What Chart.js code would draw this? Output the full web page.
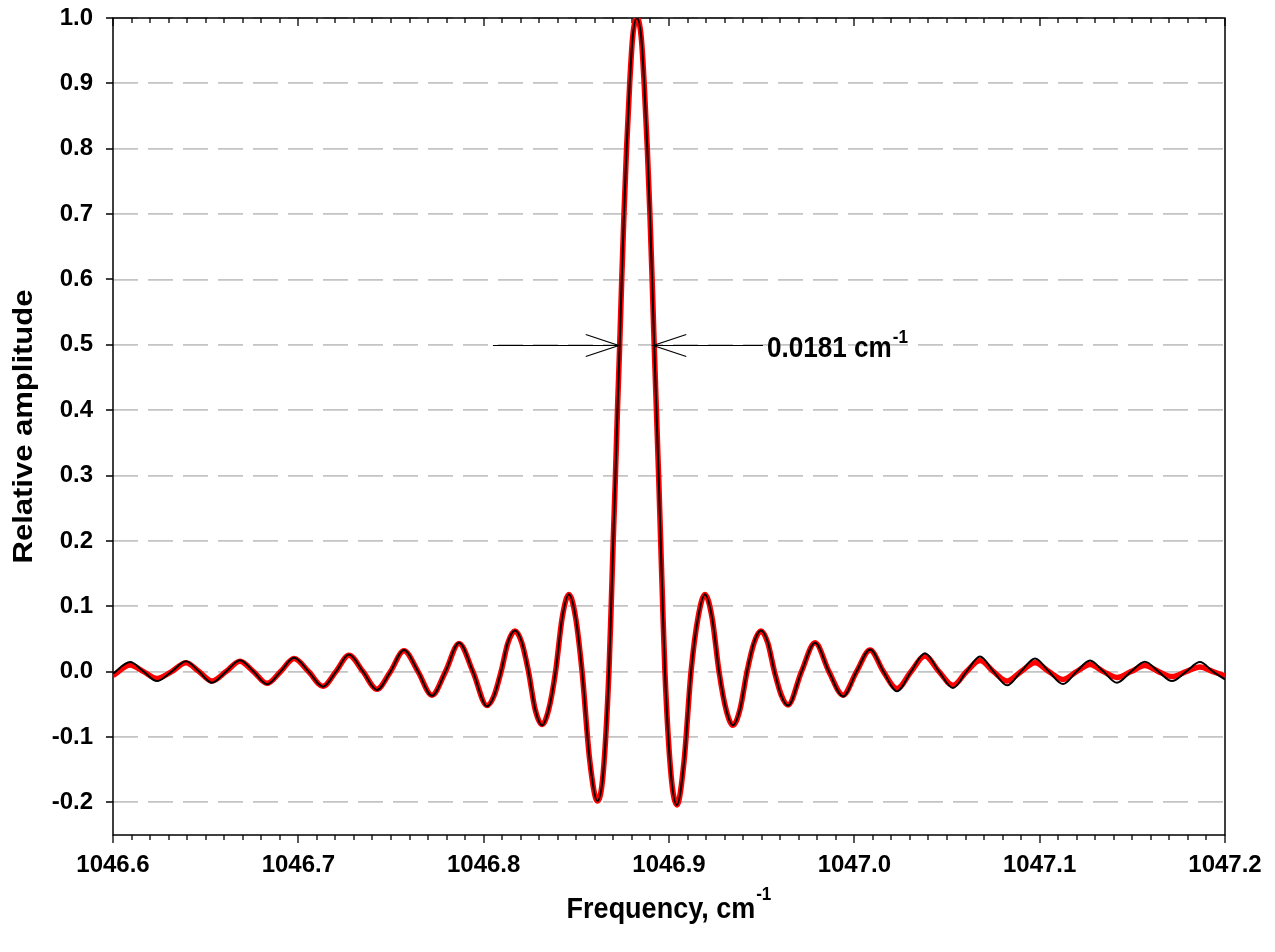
<!DOCTYPE html>
<html>
<head>
<meta charset="utf-8">
<script src="https://cdn.jsdelivr.net/npm/chart.js@4.4.0/dist/chart.umd.min.js"></script>
<style>
  body { margin: 0; background: #fff; }
  #wrap { width: 1275px; height: 952px; }
</style>
</head>
<body>
<div id="wrap"><canvas id="chart" width="1275" height="952"></canvas></div>
<script>
// frequencies (cm-1) of the points
const freq = [
  // left wing
  1046.6000, 1046.6092, 1046.6165, 1046.6237, 1046.6316, 1046.6394, 1046.6464, 1046.6534,
  1046.6610, 1046.6685, 1046.6758, 1046.6831, 1046.6904, 1046.6977, 1046.7055, 1046.7133,
  1046.7203, 1046.7273, 1046.7349, 1046.7424, 1046.7497, 1046.7570, 1046.7646, 1046.7721,
  1046.7794, 1046.7867, 1046.7942, 1046.8018,
  // inner left lobes
  1046.8056, 1046.8094, 1046.8131, 1046.8169, 1046.8206, 1046.8242, 1046.8278, 1046.8315,
  1046.8351, 1046.8388, 1046.8424, 1046.8460, 1046.8496, 1046.8531, 1046.8572, 1046.8614, 1046.8645,
  // main lobe
  1046.8676, 1046.8688, 1046.8699, 1046.8711, 1046.8722, 1046.8734, 1046.8745, 1046.8757,
  1046.8771, 1046.8788, 1046.8804, 1046.8827, 1046.8850, 1046.8866, 1046.8883, 1046.8897,
  1046.8909, 1046.8920, 1046.8932, 1046.8944, 1046.8955, 1046.8966, 1046.8978,
  // inner right lobes
  1046.9011, 1046.9043, 1046.9081, 1046.9119, 1046.9157, 1046.9194, 1046.9232, 1046.9270,
  1046.9308, 1046.9345, 1046.9383, 1046.9421, 1046.9459, 1046.9496, 1046.9533, 1046.9569, 1046.9606,
  // right wing
  1046.9642, 1046.9715, 1046.9788, 1046.9863, 1046.9939, 1047.0012, 1047.0085, 1047.0157,
  1047.0230, 1047.0306, 1047.0381, 1047.0457, 1047.0532, 1047.0605, 1047.0678, 1047.0751,
  1047.0824, 1047.0899, 1047.0975, 1047.1050, 1047.1126, 1047.1199, 1047.1272, 1047.1344,
  1047.1417, 1047.1493, 1047.1568, 1047.1641, 1047.1714, 1047.1790, 1047.1865, 1047.1935,
  1047.2000
];

// black trace
const blackAmp = [
  -0.003, 0.0145, 0, -0.0145, 0, 0.016, 0, -0.017,
  0, 0.0175, 0, -0.0195, 0, 0.021, 0, -0.023,
  0, 0.026, 0, -0.028, 0, 0.033, 0, -0.037,
  0, 0.044, 0, -0.053,
  -0.037, 0, 0.045, 0.063, 0.045, 0, -0.058, -0.082,
  -0.058, 0, 0.083, 0.118, 0.083, 0, -0.135, -0.198, -0.155,
  0, 0.1, 0.2, 0.3, 0.4, 0.5, 0.6, 0.7,
  0.8, 0.9, 0.971, 1.0, 0.971, 0.9, 0.8, 0.7,
  0.6, 0.5, 0.4, 0.3, 0.2, 0.1, 0,
  -0.158, -0.204, -0.138, 0, 0.083, 0.118, 0.083, 0,
  -0.058, -0.082, -0.058, 0, 0.045, 0.063, 0.045, 0, -0.037,
  -0.052, 0, 0.044, 0, -0.038, 0, 0.034, 0,
  -0.030, 0, 0.028, 0, -0.025, 0, 0.023, 0,
  -0.021, 0, 0.020, 0, -0.019, 0, 0.017, 0,
  -0.017, 0, 0.015, 0, -0.0145, 0, 0.0145, 0,
  -0.012
];

// red trace
const redAmp = [
  -0.006, 0.010, 0, -0.0105, 0, 0.0135, 0, -0.0145,
  0, 0.016, 0, -0.018, 0, 0.020, 0, -0.0225,
  0, 0.025, 0, -0.027, 0, 0.032, 0, -0.036,
  0, 0.043, 0, -0.052,
  -0.037, 0, 0.044, 0.062, 0.044, 0, -0.058, -0.081,
  -0.058, 0, 0.083, 0.118, 0.083, 0, -0.135, -0.198, -0.155,
  0, 0.1, 0.2, 0.3, 0.4, 0.5, 0.6, 0.7,
  0.8, 0.9, 0.971, 1.0, 0.971, 0.9, 0.8, 0.7,
  0.6, 0.5, 0.4, 0.3, 0.2, 0.1, 0,
  -0.158, -0.204, -0.138, 0, 0.083, 0.118, 0.083, 0,
  -0.058, -0.082, -0.058, 0, 0.044, 0.062, 0.044, 0, -0.036,
  -0.051, 0, 0.044, 0, -0.036, 0, 0.033, 0,
  -0.026, 0, 0.024, 0, -0.021, 0, 0.017, 0,
  -0.0145, 0, 0.0135, 0, -0.012, 0, 0.011, 0,
  -0.009, 0, 0.0095, 0, -0.0075, 0, 0.007, 0,
  -0.0065
];

const xTicks = [1046.6, 1046.7, 1046.8, 1046.9, 1047.0, 1047.1, 1047.2];
const yTicks = [-0.2, -0.1, 0.0, 0.1, 0.2, 0.3, 0.4, 0.5, 0.6, 0.7, 0.8, 0.9, 1.0];
const xMinorStep = 0.01;

// FWHM marker
const fwhmLevel = 0.5;
const fwhmLeft = 1046.8729;
const fwhmRight = 1046.8915;
const arrowLeftStart = 1046.805;
const arrowRightEnd = 1046.9507;
const fwhmText = "0.0181 cm";

const FONT = '"Liberation Sans", Arial, sans-serif';

// text squeezed a bit horizontally like the original
function squeezed(ctx, str, x, y, font) {
  ctx.save();
  ctx.font = font;
  const w = ctx.measureText(str).width * 0.9;
  ctx.translate(x, y);
  ctx.scale(0.9, 1);
  ctx.textAlign = "left";
  ctx.fillText(str, 0, 0);
  ctx.restore();
  return w;
}

const framePlugin = {
  id: "frame",
  beforeDatasetsDraw(chart) {
    const { ctx, chartArea: a, scales: { x, y } } = chart;
    ctx.save();
    ctx.strokeStyle = "#000";
    ctx.lineWidth = 1.5;
    ctx.strokeRect(a.left, a.top, a.right - a.left, a.bottom - a.top);
    ctx.lineWidth = 1.3;
    ctx.beginPath();
    const n = Math.round((xTicks[xTicks.length - 1] - xTicks[0]) / xMinorStep);
    for (let i = 0; i <= n; i++) {
      const px = Math.round(x.getPixelForValue(xTicks[0] + i * xMinorStep));
      const len = i % 10 === 0 ? 8 : 5;
      ctx.moveTo(px, a.bottom);
      ctx.lineTo(px, a.bottom + len);
      ctx.moveTo(px, a.top);
      ctx.lineTo(px, a.top + len);
    }
    yTicks.forEach(v => {
      const py = Math.round(y.getPixelForValue(v));
      ctx.moveTo(a.left - 7, py);
      ctx.lineTo(a.left, py);
    });
    ctx.stroke();
    ctx.restore();
  },
  afterDraw(chart) {
    const { ctx, chartArea: a, scales: { x, y } } = chart;
    ctx.save();
    ctx.fillStyle = "#000";
    ctx.strokeStyle = "#000";

    // FWHM arrows
    const y0 = Math.round(y.getPixelForValue(fwhmLevel)) + 0.5;
    const xl = x.getPixelForValue(fwhmLeft);
    const xr = x.getPixelForValue(fwhmRight);
    const xs = x.getPixelForValue(arrowLeftStart);
    const xe = x.getPixelForValue(arrowRightEnd);
    ctx.lineWidth = 1.2;
    ctx.beginPath();
    ctx.moveTo(xs, y0); ctx.lineTo(xl, y0);
    ctx.moveTo(xl - 33, y0 - 11); ctx.lineTo(xl, y0); ctx.lineTo(xl - 33, y0 + 11);
    ctx.moveTo(xe, y0); ctx.lineTo(xr, y0);
    ctx.moveTo(xr + 33, y0 - 11); ctx.lineTo(xr, y0); ctx.lineTo(xr + 33, y0 + 11);
    ctx.stroke();

    ctx.textBaseline = "alphabetic";
    const w = squeezed(ctx, fwhmText, xe + 4, y0 + 11, "bold 29px " + FONT);
    squeezed(ctx, "-1", xe + 4 + w + 1, y0 - 3, "bold 19px " + FONT);

    // x axis title
    const cx = (a.left + a.right) / 2;
    ctx.font = "bold 30px " + FONT;
    const tw = ctx.measureText("Frequency, cm").width * 0.9;
    ctx.font = "bold 19px " + FONT;
    const sw = ctx.measureText("-1").width * 0.9;
    const startX = cx - (tw + sw + 1) / 2;
    squeezed(ctx, "Frequency, cm", startX, 918, "bold 30px " + FONT);
    squeezed(ctx, "-1", startX + tw + 1, 900, "bold 19px " + FONT);

    // y axis title
    ctx.save();
    ctx.translate(32, (a.top + a.bottom) / 2);
    ctx.scale(0.9, 1);
    ctx.rotate(-Math.PI / 2);
    ctx.font = "bold 31px " + FONT;
    ctx.textAlign = "center";
    ctx.fillText("Relative amplitude", 0, 0);
    ctx.restore();

    ctx.restore();
  }
};

const ctx = document.getElementById("chart");

new Chart(ctx, {
  type: "line",
  data: {
    datasets: [
      {
        label: "black",
        data: freq.map((f, i) => ({ x: f, y: blackAmp[i] })),
        borderColor: "#000000",
        borderWidth: 2,
        pointRadius: 0,
        cubicInterpolationMode: "monotone",
        fill: false
      },
      {
        label: "red",
        data: freq.map((f, i) => ({ x: f, y: redAmp[i] })),
        borderColor: "#ff0000",
        borderWidth: 5.5,
        pointRadius: 0,
        cubicInterpolationMode: "monotone",
        fill: false
      }
    ]
  },
  options: {
    responsive: false,
    animation: false,
    layout: { padding: { left: 0, right: 50, top: 18, bottom: 0 } },
    plugins: {
      legend: { display: false },
      tooltip: { enabled: false }
    },
    scales: {
      x: {
        type: "linear",
        min: 1046.6,
        max: 1047.2,
        afterBuildTicks: scale => { scale.ticks = xTicks.map(v => ({ value: v })); },
        afterFit: scale => {
          scale.height = 117;
          scale.paddingLeft = 0;
          scale.paddingRight = 0;
        },
        grid: { display: false, drawTicks: false },
        border: { display: false },
        ticks: {
          color: "#000",
          padding: 16,
          maxRotation: 0,
          autoSkip: false,
          font: { family: FONT, size: 24, weight: "bold" },
          callback: v => v.toFixed(1)
        }
      },
      y: {
        type: "linear",
        min: -0.25,
        max: 1.0,
        afterBuildTicks: scale => { scale.ticks = yTicks.map(v => ({ value: v })); },
        afterFit: scale => {
          scale.width = 113;
          scale.paddingTop = 0;
          scale.paddingBottom = 0;
        },
        grid: { color: "#c4c4c4", lineWidth: 1.8, drawTicks: false },
        border: { display: false, dash: [25, 10] },
        ticks: {
          color: "#000",
          padding: 20,
          autoSkip: false,
          font: { family: FONT, size: 24, weight: "bold" },
          callback: v => v.toFixed(1)
        }
      }
    }
  },
  plugins: [framePlugin]
});
</script>
</body>
</html>
